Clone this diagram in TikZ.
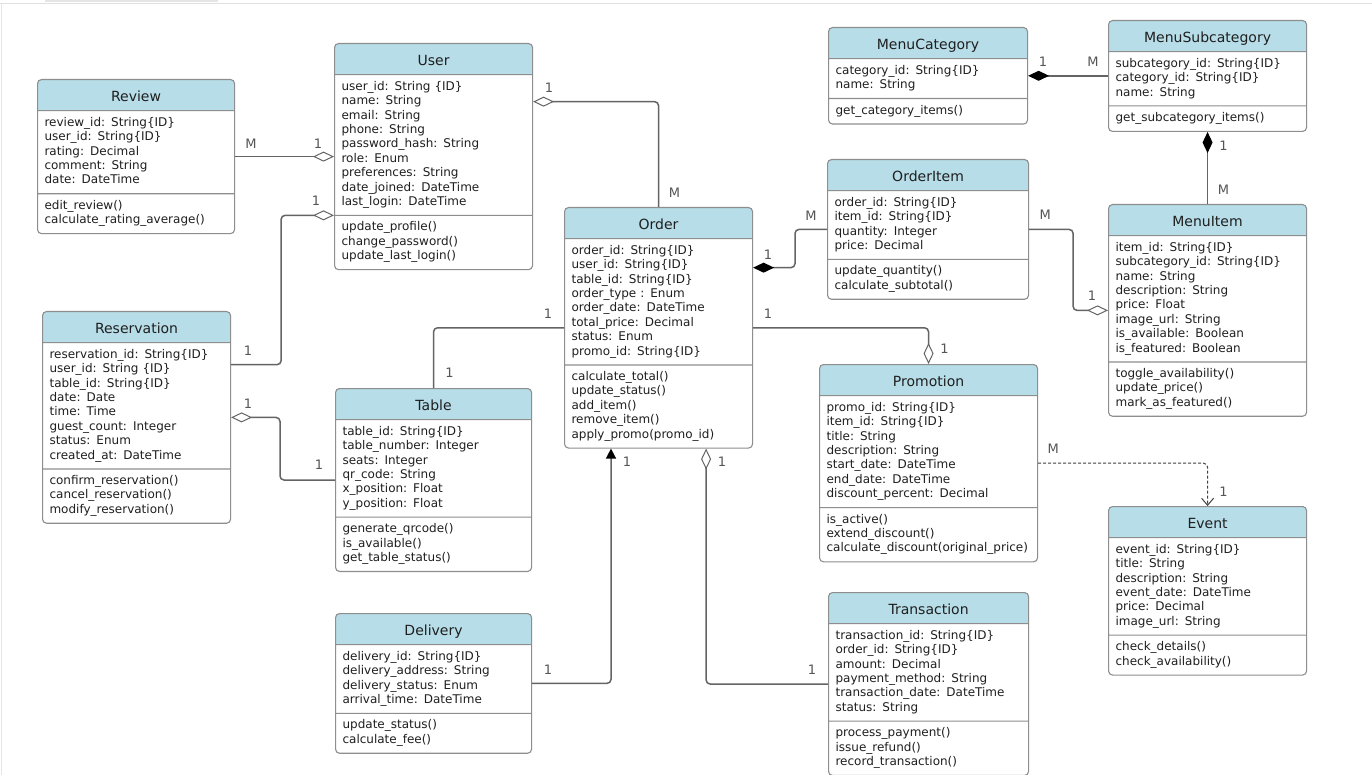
\documentclass[tikz,border=0pt]{standalone}
\usepackage{fontspec}
\setmainfont{DejaVu Sans}
\usetikzlibrary{shapes.multipart,arrows.meta,calc,positioning}

\definecolor{headblue}{HTML}{B7DDE8}
\definecolor{boxline}{HTML}{8E8E8E}
\definecolor{linkgray}{HTML}{646464}
\definecolor{labelgray}{HTML}{555555}

\newcommand{\classtitle}[1]{{\centering\fontsize{14}{16}\selectfont\rule[-4pt]{0pt}{20pt}#1\par}}

\tikzset{
  umlclass/.style={rectangle split, rectangle split parts=3, draw=boxline,
    line width=1.1pt, rounded corners=4pt, anchor=north west,
    inner xsep=7pt, inner ysep=5pt, text=black!88,
    font=\fontsize{12}{14.4}\selectfont,
    path picture={\fill[headblue, sharp corners] (path picture bounding box.north west)
      rectangle ([yshift=-30pt]path picture bounding box.north east);}},
  assoc/.style={draw=linkgray, line width=1.5pt, rounded corners=4pt},
  aggr/.style={assoc, -{Diamond[open, length=21pt, width=10pt, line width=1pt]}},
  compo/.style={assoc, -{Diamond[length=21pt, width=10pt, color=black]}},
  navig/.style={assoc, -{Triangle[length=10pt, width=10pt, color=black]}},
  depend/.style={draw=black!75, line width=1pt, dash pattern=on 3pt off 2pt,
    rounded corners=4pt, -{Straight Barb[length=7pt, width=12pt]}},
  mult/.style={font=\fontsize{13}{13}\selectfont, text=labelgray, inner sep=0pt}
}

\begin{document}
\begin{tikzpicture}[x=1pt, y=-1pt]

\path[use as bounding box, fill=white] (0,0) rectangle (1372,775);
\fill[black!10] (45,0) rectangle (218,2.5);
\draw[black!12, line width=0.8pt] (0,3) -- (1372,3);
\draw[black!10, line width=0.8pt] (1,3) -- (1,775);

% classes
\node[umlclass, text width=183pt] (review) at (37,79) {\classtitle{Review}
  \nodepart{two}\strut review\_id: String\{ID\}\\ user\_id: String\{ID\}\\ rating: Decimal\\
  comment: String\\ date: DateTime\strut
  \nodepart{three}\strut edit\_review()\\ calculate\_rating\_average()\strut};

\node[umlclass, text width=184pt] (user) at (334,43) {\classtitle{User}
  \nodepart{two}\strut user\_id: String \{ID\}\\ name: String\\ email: String\\ phone: String\\
  password\_hash: String\\ role: Enum\\ preferences: String\\ date\_joined: DateTime\\
  last\_login: DateTime\strut
  \nodepart{three}\strut update\_profile()\\ change\_password()\\ update\_last\_login()\strut};

\node[umlclass, text width=185pt] (menucat) at (828,27) {\classtitle{MenuCategory}
  \nodepart{two}\strut category\_id: String\{ID\}\\ name: String\strut
  \nodepart{three}\strut get\_category\_items()\strut};

\node[umlclass, text width=184pt] (menusub) at (1108,20) {\classtitle{MenuSubcategory}
  \nodepart{two}\strut subcategory\_id: String\{ID\}\\ category\_id: String\{ID\}\\ name: String\strut
  \nodepart{three}\strut get\_subcategory\_items()\strut};

\node[umlclass, text width=187pt] (orderitem) at (827,159) {\classtitle{OrderItem}
  \nodepart{two}\strut order\_id: String\{ID\}\\ item\_id: String\{ID\}\\ quantity: Integer\\
  price: Decimal\strut
  \nodepart{three}\strut update\_quantity()\\ calculate\_subtotal()\strut};

\node[umlclass, text width=184pt] (menuitem) at (1108,204) {\classtitle{MenuItem}
  \nodepart{two}\strut item\_id: String\{ID\}\\ subcategory\_id: String\{ID\}\\ name: String\\
  description: String\\ price: Float\\ image\_url: String\\ is\_available: Boolean\\
  is\_featured: Boolean\strut
  \nodepart{three}\strut toggle\_availability()\\ update\_price()\\ mark\_as\_featured()\strut};

\node[umlclass, text width=174pt] (order) at (564,207) {\classtitle{Order}
  \nodepart{two}\strut order\_id: String\{ID\}\\ user\_id: String\{ID\}\\ table\_id: String\{ID\}\\
  order\_type : Enum\\ order\_date: DateTime\\ total\_price: Decimal\\ status: Enum\\
  promo\_id: String\{ID\}\strut
  \nodepart{three}\strut calculate\_total()\\ update\_status()\\ add\_item()\\ remove\_item()\\
  apply\_promo(promo\_id)\strut};

\node[umlclass, text width=174pt] (reservation) at (42,311) {\classtitle{Reservation}
  \nodepart{two}\strut reservation\_id: String\{ID\}\\ user\_id: String \{ID\}\\
  table\_id: String\{ID\}\\ date: Date\\ time: Time\\ guest\_count: Integer\\ status: Enum\\
  created\_at: DateTime\strut
  \nodepart{three}\strut confirm\_reservation()\\ cancel\_reservation()\\ modify\_reservation()\strut};

\node[umlclass, text width=182pt] (table) at (335,388) {\classtitle{Table}
  \nodepart{two}\strut table\_id: String\{ID\}\\ table\_number: Integer\\ seats: Integer\\
  qr\_code: String\\ x\_position: Float\\ y\_position: Float\strut
  \nodepart{three}\strut generate\_qrcode()\\ is\_available()\\ get\_table\_status()\strut};

\node[umlclass, text width=204pt] (promotion) at (819,364) {\classtitle{Promotion}
  \nodepart{two}\strut promo\_id: String\{ID\}\\ item\_id: String\{ID\}\\ title: String\\
  description: String\\ start\_date: DateTime\\ end\_date: DateTime\\
  discount\_percent: Decimal\strut
  \nodepart{three}\strut is\_active()\\ extend\_discount()\\
  calculate\_discount(original\_price)\strut};

\node[umlclass, text width=184pt] (event) at (1108,506) {\classtitle{Event}
  \nodepart{two}\strut event\_id: String\{ID\}\\ title: String\\ description: String\\
  event\_date: DateTime\\ price: Decimal\\ image\_url: String\strut
  \nodepart{three}\strut check\_details()\\ check\_availability()\strut};

\node[umlclass, text width=182pt] (delivery) at (335,613) {\classtitle{Delivery}
  \nodepart{two}\strut delivery\_id: String\{ID\}\\ delivery\_address: String\\
  delivery\_status: Enum\\ arrival\_time: DateTime\strut
  \nodepart{three}\strut update\_status()\\ calculate\_fee()\strut};

\node[umlclass, text width=186pt] (transaction) at (828,592) {\classtitle{Transaction}
  \nodepart{two}\strut transaction\_id: String\{ID\}\\ order\_id: String\{ID\}\\ amount: Decimal\\
  payment\_method: String\\ transaction\_date: DateTime\\ status: String\strut
  \nodepart{three}\strut process\_payment()\\ issue\_refund()\\ record\_transaction()\strut};

% connector ends
\coordinate (resUser) at ($(reservation.text split east)+(0,22)$);
\coordinate (userOrder) at ($(user.text split east)+(0,27)$);
\coordinate (orderItems) at ($(order.text split east)+(0,29)$);
\coordinate (orderDelivery) at ($(order.south west)+(47,0)$);
\coordinate (orderTrans) at ($(order.south east)+(-47,0)$);

% connectors
\draw[aggr] (review.east) -- (review.east -| user.west);
\draw[aggr] (resUser) -- ++(50,0) |- (user.two split west);
\draw[aggr] (order.north) |- (userOrder);
\draw[compo] (orderitem.west) -- ++(-32,0) |- (orderItems);
\draw[compo] (menusub.west |- menucat.east) -- (menucat.east);
\draw[compo] (menuitem.north) -- (menusub.south);
\draw[aggr] (orderitem.east) -- ++(44,0) |- (menuitem.west);
\draw[aggr] (order.east) -| (promotion.north);
\draw[assoc] (order.west) -| (table.north);
\draw[aggr] (table.west) -- ++(-55,0) |- (reservation.east);
\draw[navig] (delivery.east) -| (orderDelivery);
\draw[aggr] (transaction.west) -| (orderTrans);
\draw[depend] (promotion.east) -| (event.north);

% multiplicities
\node[mult] (revM) at ([shift={(16,-13)}]review.east) {M};
\node[mult] (revOne) at ([shift={(-16,-13)}]user.west) {1};
\node[mult] (resOne) at ([shift={(17,-14)}]resUser) {1};
\node[mult] (userResOne) at ([shift={(-18,-15)}]user.two split west) {1};
\node[mult] (userOne) at ([shift={(16,-14)}]userOrder) {1};
\node[mult] (ordUserM) at ([shift={(16,-14)}]order.north) {M};
\node[mult] (itemOrdM) at ([shift={(-16,-14)}]orderitem.west) {M};
\node[mult] (ordItemOne) at ([shift={(15,-13)}]orderItems) {1};
\node[mult] (catOne) at ([shift={(15,-14)}]menucat.east) {1};
\node[mult] (subCatM) at ([shift={(-15,-14)}]menusub.west) {M};
\node[mult] (subOne) at ([shift={(16,14)}]menusub.south) {1};
\node[mult] (itemSubM) at ([shift={(16,-14)}]menuitem.north) {M};
\node[mult] (itemMenuM) at ([shift={(16,-15)}]orderitem.east) {M};
\node[mult] (menuOne) at ([shift={(-16,-15)}]menuitem.west) {1};
\node[mult] (ordPromoOne) at ([shift={(15,-14)}]order.east) {1};
\node[mult] (promoOne) at ([shift={(16,-15)}]promotion.north) {1};
\node[mult] (ordTableOne) at ([shift={(-16,-14)}]order.west) {1};
\node[mult] (tableOne) at ([shift={(16,-15)}]table.north) {1};
\node[mult] (resTableOne) at ([shift={(17,-14)}]reservation.east) {1};
\node[mult] (tableResOne) at ([shift={(-16,-15)}]table.west) {1};
\node[mult] (delOne) at ([shift={(16,-14)}]delivery.east) {1};
\node[mult] (ordDelOne) at ([shift={(16,13)}]orderDelivery) {1};
\node[mult] (transOne) at ([shift={(-16,-14)}]transaction.west) {1};
\node[mult] (ordTransOne) at ([shift={(16,13)}]orderTrans) {1};
\node[mult] (promoM) at ([shift={(15,-14)}]promotion.east) {M};
\node[mult] (eventOne) at ([shift={(16,-14)}]event.north) {1};

\end{tikzpicture}
\end{document}
